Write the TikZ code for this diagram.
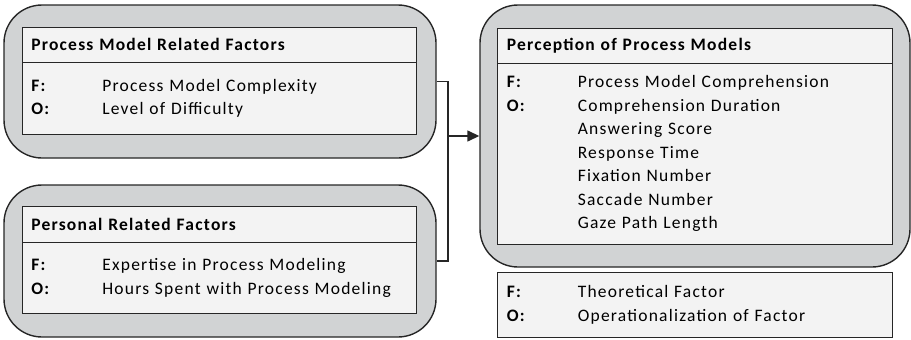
\documentclass[tikz,border=0pt]{standalone}
\usepackage{fontspec}
\setmainfont[LetterSpace=7]{Carlito}
\usetikzlibrary{arrows.meta,positioning}
\definecolor{LineGray}{HTML}{262626}
\definecolor{OuterGray}{HTML}{D1D3D4}
\definecolor{InnerGray}{HTML}{F3F3F3}
\newcommand{\lbl}[1]{\makebox[71pt][l]{\textbf{#1}}}

\begin{document}
\begin{tikzpicture}[x=1pt,y=-1pt,
  font=\fontsize{17.5}{23.5}\selectfont,
  outer/.style={draw=LineGray,line width=1.4pt,fill=OuterGray,rounded corners=38pt,inner sep=0pt},
  head/.style={draw=LineGray,line width=1.2pt,fill=InnerGray,outer sep=0pt,minimum width=394pt,minimum height=35pt,text width=376pt,inner xsep=9pt,align=left,font=\fontsize{17.5}{23.5}\selectfont\bfseries},
  body/.style={head,font=\fontsize{17.5}{23.5}\selectfont},
  conn/.style={line width=1.4pt,draw=LineGray},
  arr/.style={-{Triangle[length=12pt,width=11pt]},line width=1.4pt,draw=LineGray}
]
\useasboundingbox (0,0) rectangle (911,340);
% outer rounded boxes
\node[outer,minimum width=432pt,minimum height=153pt] (pm) at (220,81.5) {};
\node[outer,minimum width=432pt,minimum height=152pt] (pr) at (220,261) {};
\node[outer,minimum width=430pt,minimum height=262pt] (perc) at (695,136) {};
% process model related factors
\node[head,below right=23pt and 19pt of pm.north west] (pmh) {Process Model Related Factors};
\node[body,below=0pt of pmh,minimum height=72pt] (pmb) {\lbl{F:}Process Model Complexity\\
  \lbl{O:}Level of Difficulty};
% personal related factors
\node[head,below right=22pt and 19pt of pr.north west,minimum height=36pt] (prh) {Personal Related Factors};
\node[body,below=0pt of prh,minimum height=71pt] (prb) {\lbl{F:}Expertise in Process Modeling\\
  \lbl{O:}Hours Spent with Process Modeling};
% perception of process models
\node[head,below right=24pt and 18pt of perc.north west,minimum width=395pt] (pch) {Perception of Process Models};
\node[body,below=0pt of pch,minimum width=395pt,minimum height=181pt] (pcb) {\lbl{F:}Process Model Comprehension\\
  \lbl{O:}Comprehension Duration\\
  \lbl{}Answering Score\\
  \lbl{}Response Time\\
  \lbl{}Fixation Number\\
  \lbl{}Saccade Number\\
  \lbl{}Gaze Path Length};
% legend
\node[body,below=28pt of pcb,minimum width=395pt,minimum height=65pt] (leg) {\lbl{F:}Theoretical Factor\\
  \lbl{O:}Operationalization of Factor};
% connectors
\coordinate (jn) at (448,136);
\draw[conn] (pm.east) -| (jn) |- (pr.east);
\draw[arr] (jn) -- (perc.west);
\end{tikzpicture}
\end{document}
